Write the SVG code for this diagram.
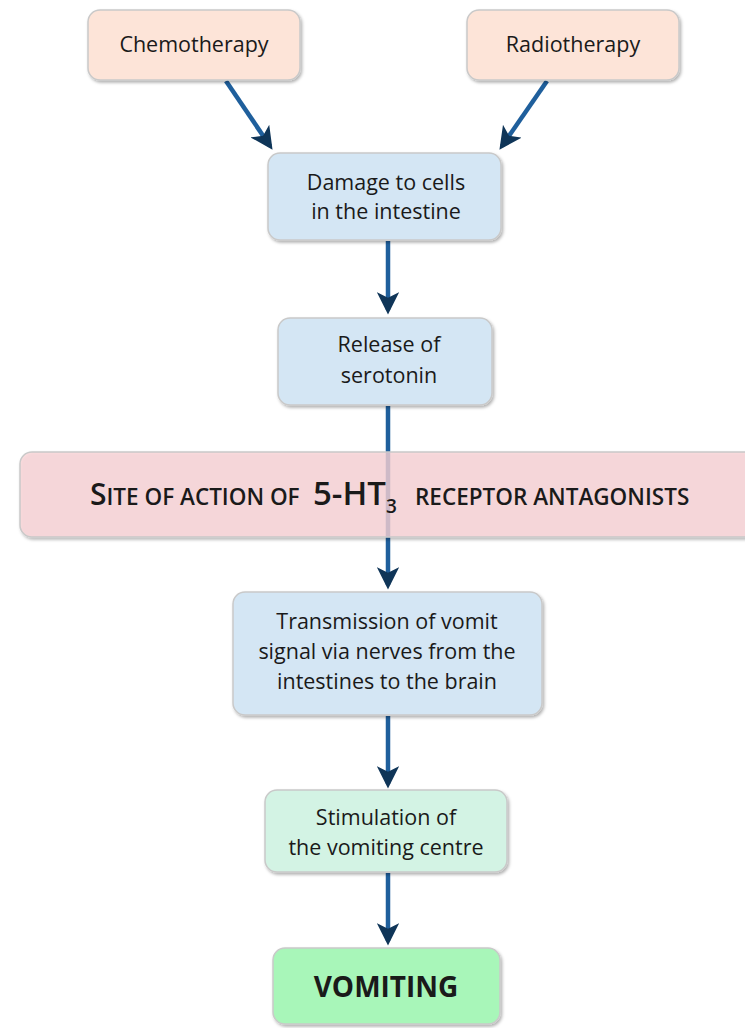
<svg xmlns="http://www.w3.org/2000/svg" width="745" height="1028" viewBox="0 0 745 1028">
  <style>
    .box { stroke: #c9c9c9; stroke-width: 1.5; filter: url(#shadow); }
    .lbl { font-family: "Open Sans", "Noto Sans", sans-serif; font-size: 21.5px; fill: #1a1a1a; text-anchor: middle; }
    .big { font-size: 28px; font-weight: 700; }
    .conn { stroke: #1f5f9c; stroke-width: 4.5; fill: none; marker-end: url(#head); }
    .sc { font-family: "Open Sans", "Noto Sans", sans-serif; fill: #1a1a1a; font-weight: 600; }
  </style>
  <defs>
    <filter id="shadow" x="-10%" y="-10%" width="125%" height="130%">
      <feDropShadow dx="1.5" dy="2" stdDeviation="1.5" flood-color="#000" flood-opacity="0.3"/>
    </filter>
    <marker id="head" viewBox="0 0 10 10" refX="8" refY="5" markerWidth="5" markerHeight="5" orient="auto" markerUnits="strokeWidth">
      <path d="M0,0 L10,5 L0,10 L2.5,5 Z" fill="#0f3558"/>
    </marker>
  </defs>

  <!-- connectors -->
  <g id="connectors">
    <line class="conn" x1="226" y1="81" x2="270" y2="146"/>
    <line class="conn" x1="547" y1="81" x2="502" y2="146"/>
    <line class="conn" x1="388" y1="241" x2="388" y2="310"/>
    <line class="conn" x1="388" y1="406" x2="388" y2="585"/>
    <line class="conn" x1="388" y1="716" x2="388" y2="784"/>
    <line class="conn" x1="388" y1="873" x2="388" y2="941"/>
  </g>

  <g id="chemotherapy">
    <rect class="box" x="88" y="10" width="212" height="70" rx="12" fill="#fde4d8"/>
    <text class="lbl" x="194" y="52">Chemotherapy</text>
  </g>

  <g id="radiotherapy">
    <rect class="box" x="467" y="10" width="212" height="70" rx="12" fill="#fde4d8"/>
    <text class="lbl" x="573" y="52">Radiotherapy</text>
  </g>

  <g id="damage">
    <rect class="box" x="268" y="153" width="233" height="87" rx="12" fill="#d4e6f4"/>
    <text class="lbl" x="386" y="190">Damage to cells</text>
    <text class="lbl" x="386" y="219">in the intestine</text>
  </g>

  <g id="release">
    <rect class="box" x="278" y="318" width="214" height="87" rx="12" fill="#d4e6f4"/>
    <text class="lbl" x="389" y="352">Release of</text>
    <text class="lbl" x="389" y="383">serotonin</text>
  </g>

  <!-- translucent band: the serotonin connector shows through it -->
  <g id="site-of-action">
    <rect class="box" x="20" y="452" width="740" height="85" rx="12" fill="#fbd4d7" fill-opacity="0.77"/>
    <text class="sc" y="505"><tspan x="90" font-size="30">S</tspan><tspan font-size="22.5">ITE OF ACTION OF</tspan><tspan x="313" font-size="33">5-HT</tspan><tspan font-size="19" dy="8">3</tspan><tspan x="415" dy="-8" font-size="22.5">RECEPTOR ANTAGONISTS</tspan></text>
  </g>

  <g id="transmission">
    <rect class="box" x="233" y="592" width="309" height="123" rx="12" fill="#d4e6f4"/>
    <text class="lbl" x="387" y="629">Transmission of vomit</text>
    <text class="lbl" x="387" y="659">signal via nerves from the</text>
    <text class="lbl" x="387" y="689">intestines to the brain</text>
  </g>

  <g id="stimulation">
    <rect class="box" x="265" y="790" width="242" height="82" rx="12" fill="#d3f3e4"/>
    <text class="lbl" x="386" y="825">Stimulation of</text>
    <text class="lbl" x="386" y="855">the vomiting centre</text>
  </g>

  <g id="vomiting">
    <rect class="box" x="273" y="948" width="227" height="76" rx="12" fill="#a8f6b9"/>
    <text class="lbl big" x="386" y="997">VOMITING</text>
  </g>
</svg>
